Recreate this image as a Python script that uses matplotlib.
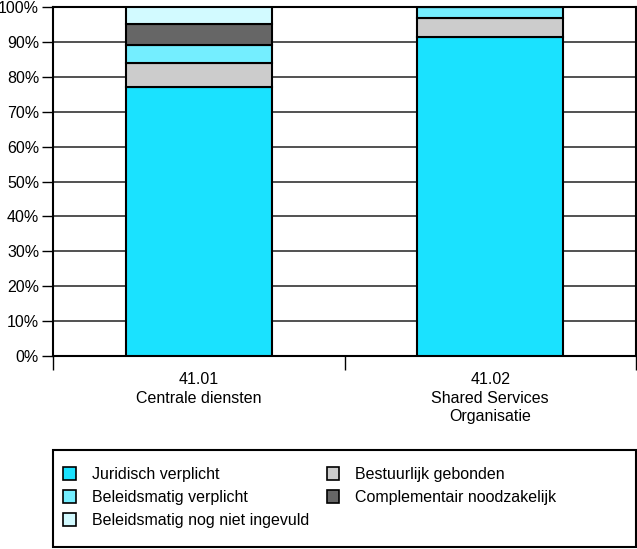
import matplotlib.pyplot as plt
from matplotlib.patches import Patch, Rectangle
import numpy as np

plt.rcParams['font.family'] = ['Liberation Sans', 'DejaVu Sans']

# Data (percent of total)
categories = ["41.01\nCentrale diensten", "41.02\nShared Services\nOrganisatie"]
series = ["Juridisch verplicht", "Bestuurlijk gebonden", "Beleidsmatig verplicht",
          "Complementair noodzakelijk", "Beleidsmatig nog niet ingevuld"]
juridisch = [77, 91.4]
bestuurlijk = [7, 5.5]
beleid_verplicht = [5, 3.1]
complementair = [6, 0]
nog_niet = [5, 0]

values = [juridisch, bestuurlijk, beleid_verplicht, complementair, nog_niet]
colors = ["#1AE2FF", "#CCCCCC", "#74EEFF", "#666666", "#D2FAFF"]

W, H = 637, 549
fig = plt.figure(figsize=(W / 100, H / 100), dpi=100)
ax = fig.add_axes([53 / W, 1 - 356 / H, 583 / W, 349 / H])

x = np.arange(len(categories))
bottom = np.zeros(len(categories))
handles = {}
for name, vals, col in zip(series, values, colors):
    vals = np.array(vals, dtype=float)
    ax.bar(x, vals, width=0.5, bottom=bottom, color=col,
           edgecolor="black", linewidth=1.5, zorder=3)
    handles[name] = Patch(facecolor=col, edgecolor="black", linewidth=1.2)
    bottom += vals

ax.set_xlim(-0.5, 1.5)
ax.set_ylim(0, 100)
ax.set_yticks(np.arange(0, 101, 10))
ax.set_yticklabels([f"{v}%" for v in range(0, 101, 10)], fontsize=11.5)
ax.yaxis.grid(True, color="#333333", linewidth=1.2, zorder=0)
for s in ax.spines.values():
    s.set_linewidth(1.5)
ax.tick_params(axis="y", length=8, width=1, pad=2)

# category labels centered, separator ticks at boundaries
ax.set_xticks([-0.5, 0.5, 1.5])
ax.set_xticklabels([])
ax.tick_params(axis="x", length=10, width=1, direction="out")
for xi, lab in zip(x, categories):
    ax.text(xi, -4.6, lab, ha="center", va="top", fontsize=11.5,
            linespacing=1.3)

# legend frame
fig.patches.append(Rectangle((53 / W, 1 - 547 / H), 583 / W, 97 / H,
                             transform=fig.transFigure, facecolor="none",
                             edgecolor="black", linewidth=1.5))
order = ["Juridisch verplicht", "Beleidsmatig verplicht", "Beleidsmatig nog niet ingevuld",
         "Bestuurlijk gebonden", "Complementair noodzakelijk"]
leg = fig.legend([handles[n] for n in order], order, ncol=2,
                 loc="upper left", bbox_to_anchor=(63 / W, 1 - 467 / H),
                 fontsize=11.5, frameon=False,
                 handlelength=0.8, handleheight=0.8,
                 handletextpad=1.0, labelspacing=0.5, columnspacing=1.1,
                 borderpad=0, borderaxespad=0)

fig.savefig("out.png", dpi=100)
